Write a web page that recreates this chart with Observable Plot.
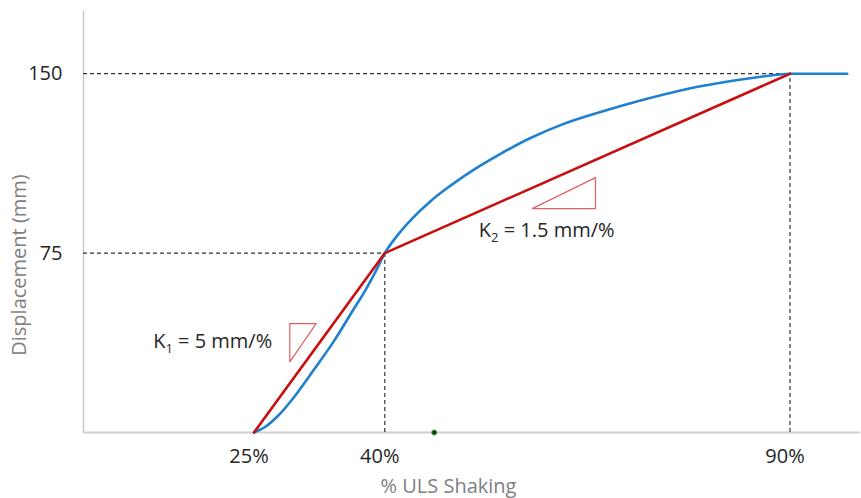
<!DOCTYPE html>
<html>
<head>
<meta charset="utf-8">
<script src="https://cdn.jsdelivr.net/npm/d3@7"></script>
<script src="https://cdn.jsdelivr.net/npm/@observablehq/plot@0.6"></script>
<style>
  html, body { margin: 0; padding: 0; background: #ffffff; }
</style>
</head>
<body>
<div id="chart"></div>
<script>
// ---- data ----
const xTicks = [25, 40, 90];            // % ULS shaking
const yTicks = [75, 150];               // displacement (mm)

// blue response curve
const curveX = [25, 26.27, 27.82, 29.31, 31.82, 34.22, 36.35, 37.67, 38.88, 40,
                41.53, 43.17, 45.64, 48.11, 51.19, 54.28, 57.98, 61.68, 66.62, 71.55,
                76.49, 81.42, 85.74, 90, 97.06];
const curveY = [0, 2.3, 7.2, 13.5, 26.0, 38.5, 51.1, 58.8, 66.8, 75,
                82.3, 88.7, 96.7, 103.2, 110.3, 116.5, 123.1, 128.5, 134.0, 138.8,
                143.0, 146.2, 148.4, 150, 150];

// red bilinear idealisation
const bilinearX = [25, 40, 90];
const bilinearY = [0, 75, 150];

// slope triangles
const tri1X = [29.11, 32.13, 29.11, 29.11];
const tri1Y = [45.55, 45.55, 29.5, 45.55];
const tri2X = [58.19, 66.0, 66.0, 58.19];
const tri2Y = [93.6, 106.56, 93.6, 93.6];

// annotations
const labelText = ["K1 = 5 mm/%", "K2 = 1.5 mm/%"];
const labelX = [13.44, 51.6];
const labelY = [37.86, 84.25];

// small marker on the x axis
const markerX = [46.1];
const markerY = [0];

const xTitle = "% ULS Shaking";
const yTitle = "Displacement (mm)";

// ---- build tables ----
const curve = curveX.map((x, i) => ({x, y: curveY[i]}));
const bilinear = bilinearX.map((x, i) => ({x, y: bilinearY[i]}));
const tri1 = tri1X.map((x, i) => ({x, y: tri1Y[i]}));
const tri2 = tri2X.map((x, i) => ({x, y: tri2Y[i]}));
const labels = labelText.map((t, i) => ({x: labelX[i], y: labelY[i], t}));
const marker = markerX.map((x, i) => ({x, y: markerY[i]}));
const guides = bilinearX.slice(1).map((x, i) => ({x, y: bilinearY[i + 1]}));

// piecewise x scale (the sketch is not drawn to a uniform scale)
const xDomain = [5.45, 25, 40, 90, 98.7];
const xRange = [83, 253.5, 384.3, 789.5, 860];
const yDomain = [0, 176];

const BLUE = "#1f80d0";
const RED = "#c80f0f";
const TRI = "#e06060";
const DASH = "#333333";

const chart = Plot.plot({
  width: 861,
  height: 498,
  marginLeft: 83,
  marginRight: 1,
  marginTop: 11,
  marginBottom: 66,
  style: {fontFamily: "'Open Sans', sans-serif", fontSize: "20px", background: "#ffffff", color: "#262626"},
  x: {type: "linear", domain: xDomain, range: xRange},
  y: {domain: yDomain},
  marks: [
    Plot.ruleY([0], {x1: xDomain[0], x2: xDomain[xDomain.length - 1], stroke: "#d0d0d0", strokeWidth: 2}),
    Plot.ruleX([xDomain[0]], {y1: yDomain[0], y2: yDomain[1], stroke: "#bfbfbf", strokeWidth: 1.2}),
    Plot.ruleY(guides, {y: "y", x1: xDomain[0], x2: "x", stroke: DASH, strokeWidth: 1.2, strokeDasharray: "4,3"}),
    Plot.ruleX(guides, {x: "x", y1: 0, y2: "y", stroke: DASH, strokeWidth: 1.2, strokeDasharray: "4,3"}),
    Plot.line(curve, {x: "x", y: "y", stroke: BLUE, strokeWidth: 2.6, curve: "monotone-x"}),
    Plot.line(bilinear, {x: "x", y: "y", stroke: RED, strokeWidth: 2.6}),
    Plot.line(tri1, {x: "x", y: "y", stroke: TRI, strokeWidth: 1.2}),
    Plot.line(tri2, {x: "x", y: "y", stroke: TRI, strokeWidth: 1.2}),
    Plot.dot(marker, {x: "x", y: "y", r: 2.5, fill: "#103d10", stroke: "#3da33d", strokeWidth: 1}),
    Plot.text(labels, {x: "x", y: "y", text: "t", textAnchor: "start", lineAnchor: "middle", fontSize: 20, fill: "#262626"}),
    Plot.axisX({ticks: xTicks, tickFormat: d => d + "%", tickSize: 0, tickPadding: 16, fontSize: 20, dx: -5, label: null}),
    Plot.axisY({ticks: yTicks, tickSize: 0, tickPadding: 21, fontSize: 20, label: null}),
    Plot.text([xTitle], {text: d => d, frameAnchor: "bottom", textAnchor: "middle", dx: -23.5, dy: 54, lineAnchor: "middle", fill: "#808080", fontSize: 20}),
    Plot.text([yTitle], {text: d => d, frameAnchor: "left", textAnchor: "middle", rotate: -90, dx: -64, dy: 43, lineAnchor: "middle", fill: "#808080", fontSize: 20})
  ]
});

// subscripts for K1 / K2
const NS = "http://www.w3.org/2000/svg";
chart.querySelectorAll("text").forEach(t => {
  const m = (t.textContent || "").match(/^K(\d)(.*)$/);
  if (!m || t.children.length) return;
  t.textContent = "";
  const a = document.createElementNS(NS, "tspan"); a.textContent = "K";
  const b = document.createElementNS(NS, "tspan"); b.textContent = m[1];
  b.setAttribute("font-size", "13"); b.setAttribute("dy", "5");
  const c = document.createElementNS(NS, "tspan"); c.textContent = m[2];
  c.setAttribute("dy", "-5");
  t.append(a, b, c);
});

document.getElementById("chart").append(chart);
</script>
</body>
</html>
